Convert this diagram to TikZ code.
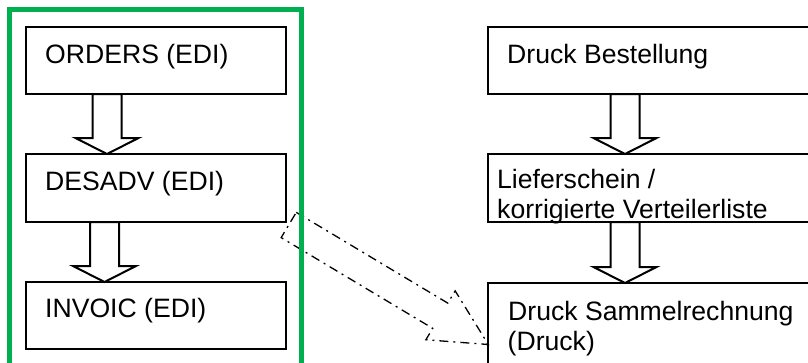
\documentclass[tikz,border=0pt]{standalone}
\usepackage{fontspec}
\setmainfont{Liberation Sans}
\usetikzlibrary{calc}
\definecolor{framegreen}{RGB}{0,176,80}
\tikzset{
  stepbox/.style={draw, line width=2.2pt, outer sep=0pt, inner sep=0pt},
  steptext/.style={anchor=base west, inner sep=0pt, font=\fontsize{26.6}{30}\selectfont},
  blockarrow/.style={draw, line width=2pt, line join=miter},
  linkarrow/.style={draw, line width=1.3pt, line join=miter,
    dash pattern=on 9pt off 5pt on 2pt off 5pt},
  greenframe/.style={draw=framegreen, line width=5pt, outer sep=0pt, inner sep=0pt},
}
% hollow block arrow pointing down from coordinate #1 to coordinate #2
\newcommand\blockdown[2]{%
  \draw[blockarrow] ($(#1)+(-14.5,0)$) -- ($(#2)+(-14.5,-16)$)
    -- ($(#2)+(-31.5,-16)$) -- (#2) -- ($(#2)+(31.5,-16)$)
    -- ($(#2)+(14.5,-16)$) -- ($(#1)+(14.5,0)$) -- cycle;}

\begin{document}
\begin{tikzpicture}[x=1pt,y=-1pt]
\clip (0,0) rectangle (808,362);
\fill[white] (0,0) rectangle (808,362);

% EDI column
\node[stepbox, minimum width=260pt, minimum height=67pt] (orders) at (156,60.5) {};
\node[stepbox, minimum width=260pt, minimum height=68pt] (desadv) at (156,188) {};
\node[stepbox, minimum width=260pt, minimum height=67pt] (invoic) at (156,315.5) {};

% print column
\node[stepbox, minimum width=340pt, minimum height=67pt] (bestellung) at (658,60.5) {};
\node[stepbox, minimum width=340pt, minimum height=68pt] (lieferschein) at (658,188) {};
\node[stepbox, minimum width=340pt, minimum height=120pt] (sammel) at (658,343) {};

% texts
\node[steptext] (t1) at (45,63.3) {ORDERS (EDI)};
\node[steptext] (t2) at (45,190) {DESADV (EDI)};
\node[steptext] (t3) at (45,317.5) {INVOIC (EDI)};
\node[steptext] (t4) at (507,63.3) {Druck Bestellung};
\node[steptext] (t5) at (497,188) {Lieferschein /};
\node[steptext] (t6) at (497,218) {korrigierte Verteilerliste};
\node[steptext] (t7) at (508,320) {Druck Sammelrechnung};
\node[steptext] (t8) at (507.5,350) {(Druck)};

% block arrows between steps
\coordinate (a1s) at ($(orders.south west)+(81,0)$);
\coordinate (a1e) at ($(desadv.north west)+(81,0)$);
\coordinate (a2s) at ($(desadv.south west)+(78.5,0)$);
\coordinate (a2e) at ($(invoic.north west)+(78.5,0)$);
\coordinate (b1s) at ($(bestellung.south west)+(137,0)$);
\coordinate (b1e) at ($(lieferschein.north west)+(137,0)$);
\coordinate (b2s) at ($(lieferschein.south west)+(137,0)$);
\coordinate (b2e) at ($(sammel.north west)+(137,0)$);
\blockdown{a1s}{a1e}
\blockdown{a2s}{a2e}
\blockdown{b1s}{b1e}
\blockdown{b2s}{b2e}

% dash-dotted link arrow from DESADV to the invoice print
\coordinate (ltail) at ($(desadv.south east)+(2.7,3)$);
\coordinate (ltip) at ($(sammel.north west)+(0.3,61.5)$);
\coordinate (lneck) at ($(ltip)!56pt!(ltail)$);
\draw[linkarrow]
  ($(ltail)!14.7pt!90:(ltip)$) -- ($(lneck)!14.7pt!90:(ltip)$)
  -- ($(lneck)!29pt!90:(ltip)$) -- (ltip)
  -- ($(lneck)!28pt!-90:(ltip)$) -- ($(lneck)!14.7pt!-90:(ltip)$)
  -- ($(ltail)!14.7pt!-90:(ltip)$) -- cycle;

% green frame around the EDI column
\node[greenframe, minimum width=292.3pt, minimum height=357.3pt] (edigroup) at (155.65,188.35) {};
\end{tikzpicture}
\end{document}
